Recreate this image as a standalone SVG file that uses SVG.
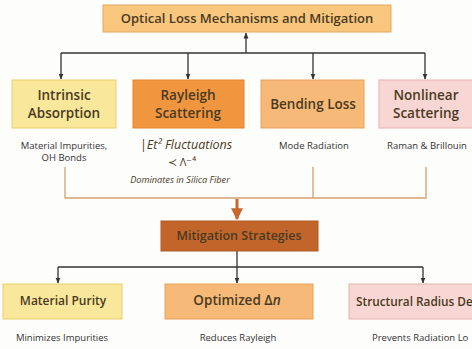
<svg xmlns="http://www.w3.org/2000/svg" width="472" height="349" viewBox="0 0 472 349">
<defs>
<marker id="ah" viewBox="0 0 6 6" refX="5.5" refY="3" markerWidth="6" markerHeight="6" markerUnits="userSpaceOnUse" orient="auto"><path d="M0,0.5 L6,3 L0,5.5 Z" fill="#333"/></marker>
<marker id="big" viewBox="0 0 10 10" refX="9" refY="5" markerWidth="12" markerHeight="12" markerUnits="userSpaceOnUse" orient="auto"><path d="M0,0 L10,5 L0,10 Z" fill="#c7692c"/></marker>
<style>
.t{font-family:"Open Sans","Liberation Sans",sans-serif;fill:#4a3a22;text-anchor:middle}
.h{font-weight:600;font-size:13.5px}
.d{font-size:9.5px;fill:#333}
.c{fill:none;stroke:#333;stroke-width:1.3}
.b{fill:none;stroke:#d5a06c;stroke-width:1.3}
.y{fill:#f9e79c;stroke:#e7cf6c}
.o{fill:#f0963f;stroke:#e4842f}
.lo{fill:#f6b977;stroke:#eaa15d}
.p{fill:#f8d6d3;stroke:#e4b2ad}
</style>
</defs>
<rect width="472" height="349" fill="#fdfdfc"/>
<g id="connectors">
<path class="c" d="M246,53 V33" marker-end="url(#ah)"/>
<path class="c" d="M61,53 H425"/>
<path class="c" d="M61,53 V79" marker-end="url(#ah)"/>
<path class="c" d="M188,53 V79" marker-end="url(#ah)"/>
<path class="c" d="M313,53 V79" marker-end="url(#ah)"/>
<path class="c" d="M425,53 V79" marker-end="url(#ah)"/>
<path class="b" d="M65,167 V198 H426 V167 M313,167 V198"/>
<path d="M237,199 V219" stroke="#c7692c" stroke-width="3" fill="none" marker-end="url(#big)"/>
<path class="c" d="M237,251 V267 M58,267 H423"/>
<path class="c" d="M58,267 V283" marker-end="url(#ah)"/>
<path class="c" d="M237,267 V283" marker-end="url(#ah)"/>
<path class="c" d="M423,267 V283" marker-end="url(#ah)"/>
</g>
<g id="title">
<rect x="103" y="5" width="288" height="27" fill="#f8c67c" stroke="#e3a95b"/>
<text class="t" x="247" y="23" font-weight="600" font-size="13" fill="#3d3020">Optical Loss Mechanisms and Mitigation</text>
</g>
<g id="intrinsic">
<rect class="y" x="12" y="80" width="104" height="48"/>
<text class="t h" x="64" y="100">Intrinsic</text>
<text class="t h" x="64" y="118">Absorption</text>
<text class="t d" x="64" y="149">Material Impurities,</text>
<text class="t d" x="64" y="161">OH Bonds</text>
</g>
<g id="rayleigh">
<rect class="o" x="133" y="80" width="111" height="48"/>
<text class="t h" x="188" y="100">Rayleigh</text>
<text class="t h" x="188" y="118">Scattering</text>
<text class="t" x="186" y="149" font-size="12.5" font-style="italic" fill="#333">|Et² Fluctuations</text>
<text class="t" x="182" y="166" font-size="11" fill="#333">≺ Λ⁻⁴</text>
<text class="t" x="180" y="183" font-size="9.2" font-style="italic" fill="#333">Dominates in Silica Fiber</text>
</g>
<g id="bending">
<rect class="lo" x="261" y="80" width="103" height="48"/>
<text class="t h" x="313" y="109">Bending Loss</text>
<text class="t d" x="314" y="149">Mode Radiation</text>
</g>
<g id="nonlinear">
<rect class="p" x="379" y="80" width="100" height="48"/>
<text class="t h" x="426" y="100">Nonlinear</text>
<text class="t h" x="426" y="118">Scattering</text>
<text class="t d" x="427" y="149">Raman &amp; Brillouin</text>
</g>
<g id="mitigation">
<rect x="161" y="221" width="157" height="30" fill="#c1652b" stroke="#b35a22"/>
<text class="t" x="239" y="240" font-weight="600" font-size="12.5" fill="#fdf3e8">Mitigation Strategies</text>
</g>
<g id="purity">
<rect class="y" x="3" y="284" width="119" height="35"/>
<text class="t" x="63" y="305" font-weight="600" font-size="12" fill="#3d3020">Material Purity</text>
<text class="t d" x="62" y="341">Minimizes Impurities</text>
</g>
<g id="optimized">
<rect class="lo" x="165" y="284" width="148" height="35"/>
<text class="t" x="237" y="305" font-weight="600" font-size="13.5" fill="#3d3020">Optimized Δ<tspan font-style="italic">n</tspan></text>
<text class="t d" x="238" y="341">Reduces Rayleigh</text>
</g>
<g id="structural">
<rect class="p" x="349" y="284" width="130" height="35"/>
<text class="t" x="356" y="306" font-weight="600" font-size="11.8" fill="#3d3020" style="text-anchor:start">Structural Radius De</text>
<text class="t d" x="372" y="341" style="text-anchor:start">Prevents Radiation Lo</text>
</g>
</svg>
